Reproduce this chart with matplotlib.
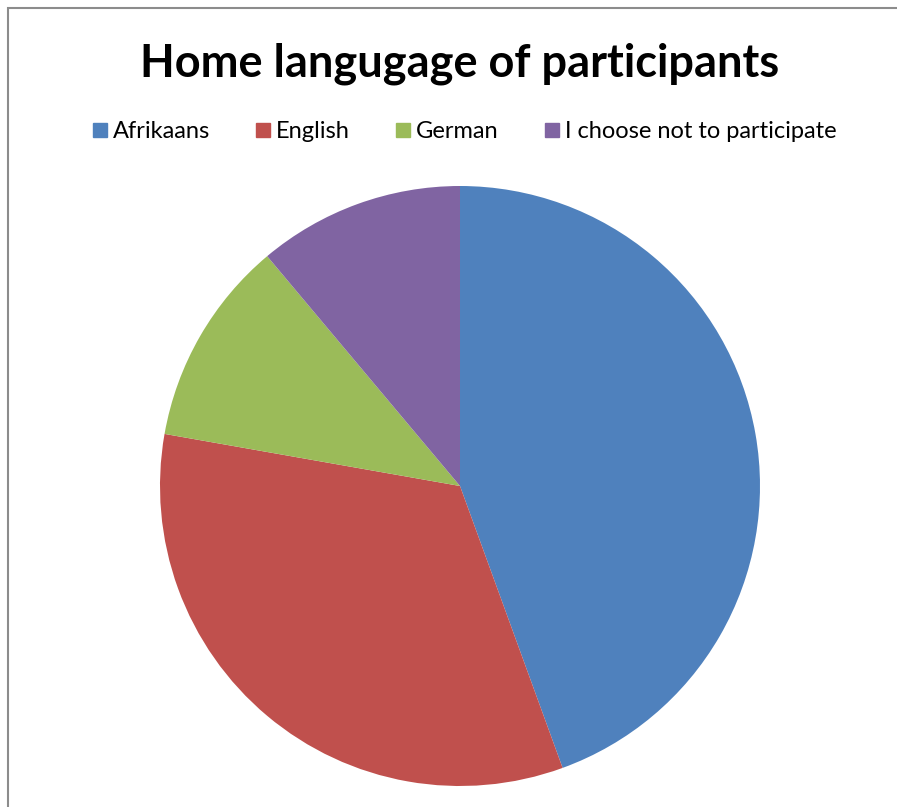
import matplotlib.pyplot as plt
from matplotlib.lines import Line2D
from matplotlib.patches import Rectangle

languages = ['Afrikaans', 'English', 'German', 'I choose not to participate']
counts = [4, 3, 1, 1]
colors = ['#4F81BD', '#C0504D', '#9BBB59', '#8064A2']

W, H = 897, 807
fig = plt.figure(figsize=(W / 100, H / 100), dpi=100)
plt.rcParams['font.family'] = ['Lato', 'DejaVu Sans']

# chart frame, cut off at the right and bottom
fig.patches.append(Rectangle((8 / W, -0.1), 1.2, 1 - 8 / H + 0.1,
                             transform=fig.transFigure, fill=False,
                             edgecolor='#8c8c8c', linewidth=1.5))

fig.text(460 / W, 1 - 64 / H, 'Home langugage of participants',
         ha='center', va='center', fontsize=32.5, fontweight='bold')

ax = fig.add_axes([160 / W, 21 / H, 600 / W, 600 / H])
ax.pie(counts, colors=colors, startangle=90, counterclock=False,
       wedgeprops=dict(linewidth=0))
ax.set_xlim(-1, 1)
ax.set_ylim(-1, 1)
ax.set_aspect('equal')

handles = [Line2D([], [], marker='s', linestyle='', markersize=9.5,
                  markerfacecolor=c, markeredgecolor=c) for c in colors]
fig.legend(handles, languages, loc='center', ncol=4,
           bbox_to_anchor=(464 / W, 1 - 132 / H), frameon=False,
           fontsize=17, handlelength=0.7, handletextpad=0.2,
           columnspacing=1.9)

fig.savefig('out.png', dpi=100)
